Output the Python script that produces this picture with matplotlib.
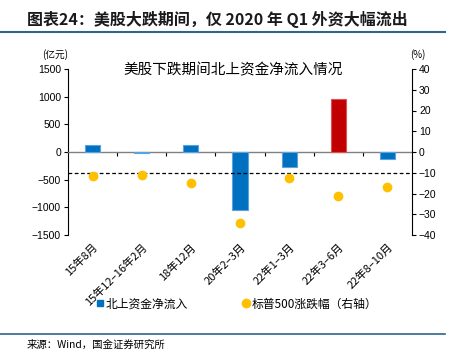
import matplotlib.pyplot as plt
from matplotlib.lines import Line2D

plt.rcParams['font.family'] = ['Liberation Sans', 'Noto Sans CJK SC', 'DejaVu Sans']
plt.rcParams['axes.unicode_minus'] = True

# Data
periods = ['15年8月', '15年12–16年2月', '18年12月', '20年2–3月', '22年1–3月', '22年3–6月', '22年8–10月']
northbound = [130, -15, 125, -1050, -280, 950, -130]      # 亿元
spx_change = [-11.4, -11.2, -15, -34.2, -12.5, -21, -17]   # %
bar_colors = ['#0070C0', '#0070C0', '#0070C0', '#0070C0', '#0070C0', '#C00000', '#0070C0']
edge_colors = ['#5BA3DE', '#5BA3DE', '#5BA3DE', '#5BA3DE', '#5BA3DE', '#E05050', '#5BA3DE']

cjk = ['Noto Sans CJK SC', 'DejaVu Sans']

fig = plt.figure(figsize=(4.63, 3.51), dpi=100)
ax = fig.add_axes([68 / 463, 1 - 235 / 351, 344 / 463, 166 / 351])

x = list(range(len(periods)))
ax.bar(x, northbound, width=0.31, color=bar_colors, edgecolor=edge_colors, linewidth=0.8, zorder=3)
ax.set_xlim(-0.5, len(periods) - 0.5)
ax.set_ylim(-1500, 1500)
ax.set_yticks(range(-1500, 1501, 500))
ax.tick_params(axis='y', labelsize=7.5, length=3, width=0.8, pad=2)

# zero line acts as x axis with ticks at category boundaries
ax.spines['bottom'].set_position(('data', 0))
ax.spines['bottom'].set_color('#808080')
ax.spines['bottom'].set_linewidth(1.0)
ax.spines['top'].set_visible(False)
ax.spines['right'].set_visible(False)
ax.spines['left'].set_linewidth(0.8)
ax.set_xticks([i + 0.5 for i in x[:-1]])
ax.tick_params(axis='x', length=3, width=0.8, color='black', labelbottom=False)

sec = ax.secondary_xaxis(0.0)
sec.set_xticks(x)
sec.set_xticklabels(periods, rotation=45, ha='right', rotation_mode='anchor', family=cjk, fontsize=8)
sec.tick_params(length=0, pad=5)
sec.spines['bottom'].set_visible(False)

ax2 = ax.twinx()
ax2.scatter(x, spx_change, s=36, color='#FFC000', zorder=4)
ax2.axhline(-10, color='black', lw=0.9, ls=(0, (3, 2)))
ax2.set_ylim(-40, 40)
ax2.set_yticks(range(-40, 41, 10))
ax2.tick_params(axis='y', labelsize=7.5, length=3, width=0.8, pad=2)
for s in ['top', 'left', 'bottom']:
    ax2.spines[s].set_visible(False)
ax2.spines['right'].set_linewidth(0.8)

ax.text(0.48, 0.99, '美股下跌期间北上资金净流入情况', transform=ax.transAxes, ha='center', va='center',
        family=cjk, fontsize=10.5)
fig.text(55 / 463, 1 - 55 / 351, '(亿元)', ha='center', va='center', family=cjk, fontsize=7)
fig.text(418 / 463, 1 - 55 / 351, '(%)', ha='center', va='center', family=cjk, fontsize=7)

handles = [Line2D([], [], marker='s', ls='', color='#0070C0', markersize=5),
           Line2D([], [], marker='o', ls='', color='#FFC000', markersize=6)]
fig.legend(handles, ['北上资金净流入', '标普500涨跌幅（右轴）'], loc='center', bbox_to_anchor=(236 / 463, 1 - 304 / 351),
           ncol=2, frameon=False, prop={'family': cjk, 'size': 8.5}, handletextpad=0.1, columnspacing=4.5,
           handlelength=0.8)

# header and footer
fig.text(27 / 463, 1 - 19 / 351, '图表24：美股大跌期间，仅 2020 年 Q1 外资大幅流出', ha='left', va='center',
         family=cjk, fontsize=11.5, fontweight='bold', color='#1a1a1a')
fig.add_artist(Line2D([0, 445 / 463], [1 - 32 / 351] * 2, color='#2F648C', lw=1.5))
fig.add_artist(Line2D([0, 445 / 463], [1 - 334 / 351] * 2, color='#2F648C', lw=1.2))
fig.text(27 / 463, 1 - 345 / 351, '来源：Wind，国金证券研究所', ha='left', va='center', family=cjk, fontsize=7.5)

fig.savefig('out.png', dpi=100)
